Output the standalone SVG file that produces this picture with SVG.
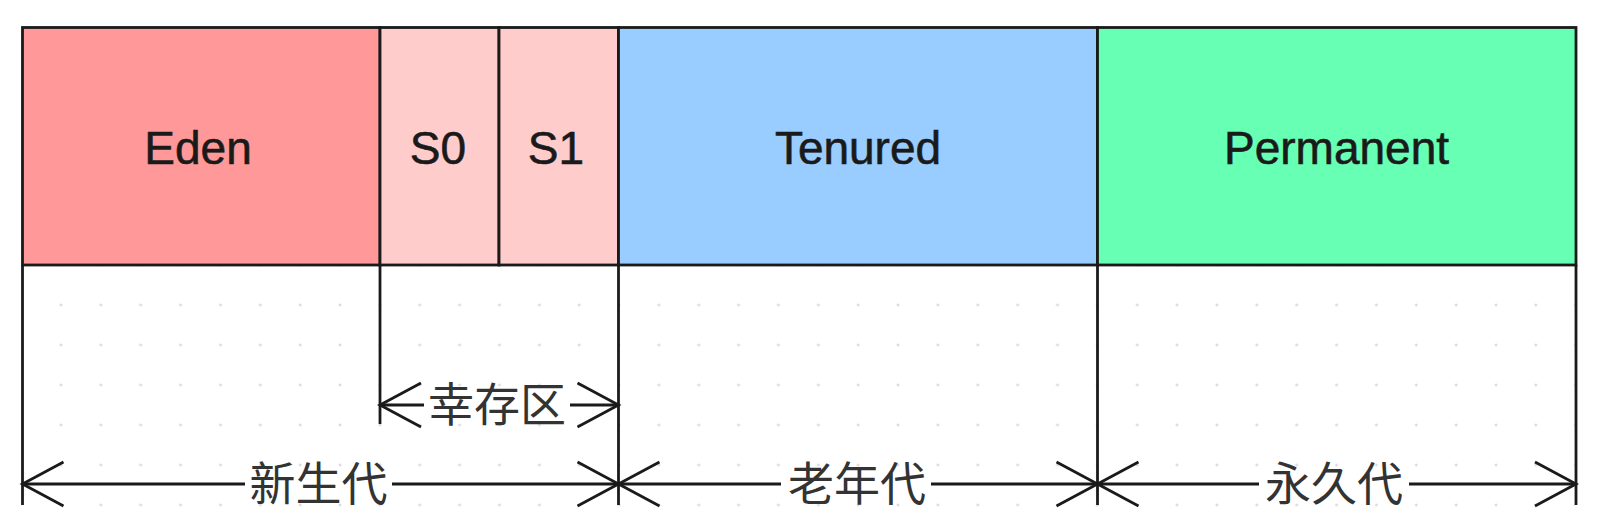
<svg xmlns="http://www.w3.org/2000/svg" width="1598" height="524" viewBox="0 0 1598 524">
  <style>
    .box { stroke: #1a1a1a; stroke-width: 2.8; }
    .lbl { font-family: "Liberation Sans", Arial, sans-serif; font-size: 46px; fill: #1a1a1a; stroke: #1a1a1a; stroke-width: 0.6; text-anchor: middle; }
    .cjk { font-family: "Liberation Sans", "Noto Sans CJK SC", sans-serif; font-size: 46px; fill: #333333; text-anchor: middle; }
    .ln { stroke: #1a1a1a; stroke-width: 2.8; fill: none; }
    .dim { stroke: #1a1a1a; stroke-width: 2.8; fill: none; marker-end: url(#open); }
  </style>
  <defs>
    <marker id="open" markerUnits="userSpaceOnUse" markerWidth="48" markerHeight="50" refX="44" refY="24" orient="auto-start-reverse" overflow="visible">
      <path d="M3,2 L44,24 L3,46" fill="none" stroke="#1a1a1a" stroke-width="2.8"/>
    </marker>
    <pattern id="dots" patternUnits="userSpaceOnUse" x="41" y="285" width="39.86" height="40">
      <path d="M18.5,20 h3 M20,18.5 v3" stroke="#d2d2d2" stroke-width="1"/>
    </pattern>
  </defs>
  <rect width="1598" height="524" fill="#ffffff"/>
  <rect x="23" y="266" width="1552" height="248" fill="url(#dots)"/>

  <g id="eden">
    <rect class="box" x="22.5" y="27.5" width="357.5" height="237.5" fill="#FF9999"/>
    <text class="lbl" x="198" y="164">Eden</text>
  </g>
  <g id="s0">
    <rect class="box" x="380" y="27.5" width="119" height="237.5" fill="#FFCCCC"/>
    <text class="lbl" x="438" y="164">S0</text>
  </g>
  <g id="s1">
    <rect class="box" x="499" y="27.5" width="119.5" height="237.5" fill="#FFCCCC"/>
    <text class="lbl" x="556" y="164">S1</text>
  </g>
  <g id="tenured">
    <rect class="box" x="618.5" y="27.5" width="479" height="237.5" fill="#99CCFF"/>
    <text class="lbl" x="858" y="164">Tenured</text>
  </g>
  <g id="permanent">
    <rect class="box" x="1097.5" y="27.5" width="478.5" height="237.5" fill="#66FFB3"/>
    <text class="lbl" x="1336.5" y="164">Permanent</text>
  </g>

  <g id="connectors">
    <line class="ln" x1="22.5" y1="265" x2="22.5" y2="505"/>
    <line class="ln" x1="380" y1="265" x2="380" y2="424"/>
    <line class="ln" x1="618.5" y1="265" x2="618.5" y2="505"/>
    <line class="ln" x1="1097.5" y1="265" x2="1097.5" y2="505"/>
    <line class="ln" x1="1576" y1="265" x2="1576" y2="505"/>

    <line class="dim" x1="424" y1="405" x2="380" y2="405"/>
    <line class="dim" x1="570" y1="405" x2="618.5" y2="405"/>

    <line class="dim" x1="245" y1="484" x2="22.5" y2="484"/>
    <line class="dim" x1="392" y1="484" x2="618.5" y2="484"/>

    <line class="dim" x1="781" y1="484" x2="618.5" y2="484"/>
    <line class="dim" x1="931" y1="484" x2="1097.5" y2="484"/>

    <line class="dim" x1="1259" y1="484" x2="1097.5" y2="484"/>
    <line class="dim" x1="1409" y1="484" x2="1576" y2="484"/>
  </g>

  <g id="labels">
    <text class="cjk" x="497" y="421">幸存区</text>
    <text class="cjk" x="318.5" y="500">新生代</text>
    <text class="cjk" x="857" y="500">老年代</text>
    <text class="cjk" x="1334" y="500">永久代</text>
  </g>
</svg>
